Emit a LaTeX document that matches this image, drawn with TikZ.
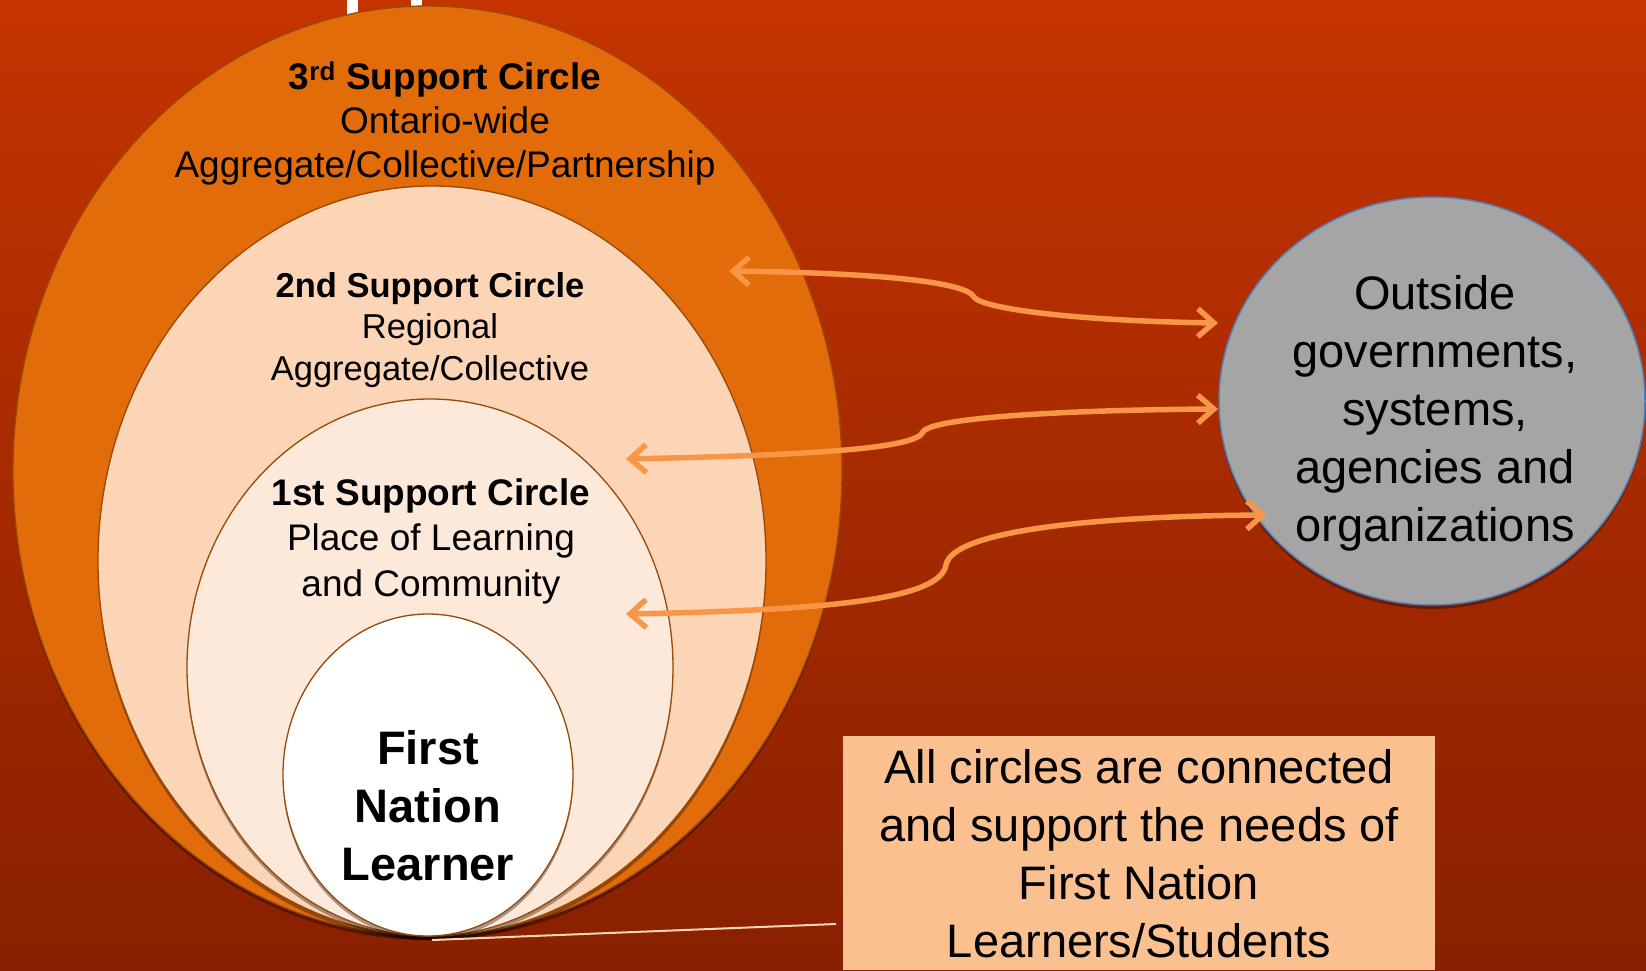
\documentclass[tikz,border=0pt]{standalone}
\usepackage{fontspec}
\setmainfont{Liberation Sans}
\usetikzlibrary{shapes.geometric,arrows.meta,shadows}
\definecolor{bgtop}{HTML}{C43400}
\definecolor{bgbot}{HTML}{882000}
\definecolor{cthree}{HTML}{E36C0A}
\definecolor{ctwo}{HTML}{FBD5B5}
\definecolor{cone}{HTML}{FDE9D9}
\definecolor{rim}{HTML}{984807}
\definecolor{arrowc}{HTML}{F79646}
\definecolor{greyfill}{HTML}{A5A5A5}
\definecolor{greyrim}{HTML}{4F81BD}
\definecolor{boxfill}{HTML}{FAC090}
\definecolor{linec}{HTML}{FBD5B5}
\begin{document}
\begin{tikzpicture}[x=1pt,y=-1pt,
  ring/.style={ellipse,draw=rim,line width=1.3pt,inner sep=0pt,
    drop shadow={shadow xshift=0pt,shadow yshift=-4pt,opacity=0.35,fill=black}},
  txt/.style={align=center,inner sep=0pt,text=black},
  link/.style={draw=arrowc,line width=5.5pt,line cap=round,line join=round,
    arrows={Straight Barb[length=16pt,width=28pt]-Straight Barb[length=16pt,width=28pt]}},
  outer/.style={ellipse,fill=greyfill,draw=greyrim,line width=1.5pt,inner sep=0pt,
    drop shadow={shadow xshift=0pt,shadow yshift=-4pt,opacity=0.3,fill=black}},
  notebox/.style={rectangle,fill=boxfill,inner sep=0pt},
]
\useasboundingbox (0,0) rectangle (1646,970);
\shade[top color=bgtop,bottom color=bgbot] (0,0) rectangle (1646,970);
% white bars at top
\fill[white] (347,0) rectangle (358,16);
\fill[white] (411,0) rectangle (422,16);

% nested circles
\node[ring,fill=cthree,minimum width=829pt,minimum height=930pt] (c3) at (427.5,471) {};
\node[ring,fill=ctwo,minimum width=668pt,minimum height=750pt] (c2) at (432,561) {};
\node[ring,fill=cone,minimum width=486pt,minimum height=537pt] (c1) at (430,667.5) {};
\node[ring,fill=white,minimum width=290pt,minimum height=322pt] (c0) at (428,775) {};

% texts of circles
\node[txt,font=\fontsize{37}{44}\selectfont] (t3) at (445,123)
  {\textbf{3\textsuperscript{rd} Support Circle}\\Ontario-wide\\Aggregate/Collective/Partnership};
\node[txt,font=\fontsize{34.5}{41.5}\selectfont] (t2) at (430,330)
  {\textbf{2nd Support Circle}\\Regional\\Aggregate/Collective};
\node[txt,font=\fontsize{37}{45.5}\selectfont] (t1) at (431,541)
  {\textbf{1st Support Circle}\\Place of Learning\\and Community};
\node[txt,font=\fontsize{47}{58}\selectfont\bfseries] (t0) at (428,806)
  {First\\Nation\\Learner};

% outside circle
\node[outer,minimum width=426pt,minimum height=408pt] (out) at (1432,401) {};
\node[txt,font=\fontsize{47}{58}\selectfont] (tout) at (1435,413)
  {Outside\\governments,\\systems,\\agencies and\\organizations};

% note box
\node[notebox,minimum width=592pt,minimum height=234pt] (box) at (1139,853) {};
\node[txt,font=\fontsize{47}{58}\selectfont] (tbox) at (1139,854)
  {All circles are connected\\and support the needs of\\First Nation\\Learners/Students};

% connector line from circles to box
\coordinate (ls) at (432,940);
\coordinate (le) at (836,924);
\draw[linec,line width=2pt] (ls) -- (le);

% double arrows
\coordinate (a1l) at (729,271);
\coordinate (a1k) at (974,297);
\coordinate (a1r) at (1218,323);
\draw[link] (a1l) .. controls (880,273) and (966,282) .. (a1k)
  .. controls (982,309) and (1080,321) .. (a1r);

\coordinate (a2l) at (626,459);
\coordinate (a2k) at (923,432);
\coordinate (a2r) at (1218,409);
\draw[link] (a2l) .. controls (820,455) and (916,448) .. (a2k)
  .. controls (930,418) and (1060,410) .. (a2r);

\coordinate (a3l) at (626,614);
\coordinate (a3k) at (946,565);
\coordinate (a3r) at (1267,515);
\draw[link] (a3l) .. controls (840,610) and (940,598) .. (a3k)
  .. controls (952,530) and (1100,516) .. (a3r);
\end{tikzpicture}
\end{document}
